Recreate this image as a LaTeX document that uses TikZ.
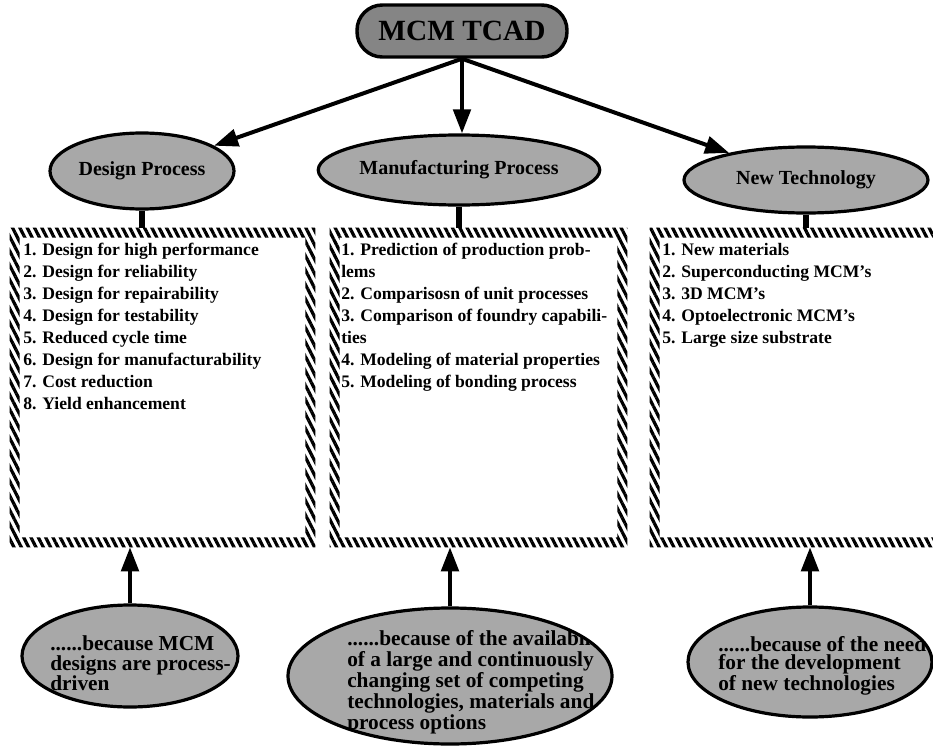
\documentclass[tikz,border=0pt]{standalone}
\usepackage{fontspec}
\setmainfont{Liberation Serif}
\usetikzlibrary{shapes.geometric,arrows.meta,patterns.meta,calc}
\definecolor{bubblegray}{gray}{0.66}
\definecolor{headgray}{gray}{0.52}
% hatched frame around a list box node
\newcommand\hatchframe[1]{%
  \fill[hatch,even odd rule] (#1.north west) rectangle (#1.south east)
    ($(#1.north west)+(10,10)$) rectangle ($(#1.south east)+(-10,-10)$);}
\begin{document}
\begin{tikzpicture}[x=0.75pt,y=-0.75pt,
  bubble/.style={ellipse,draw,line width=2.4pt,fill=bubblegray,inner sep=0pt},
  headbox/.style={rectangle,rounded corners=19pt,draw,line width=2.6pt,fill=headgray,
    minimum width=157.5pt,minimum height=39pt,inner sep=0pt,
    font=\fontsize{22}{24}\selectfont\bfseries},
  bubbletitle/.style={font=\fontsize{15}{17}\selectfont\bfseries},
  listbox/.style={rectangle,inner sep=0pt,minimum height=239.25pt},
  listtext/.style={anchor=north west,inner sep=0pt,align=left,
    font=\fontsize{13.2}{16.5}\selectfont\bfseries},
  reason/.style={anchor=west,inner sep=0pt,align=left},
  hatch/.style={pattern={Lines[angle=-63,distance=4.9pt,line width=2.4pt]}},
  arr/.style={line width=3pt,-{Triangle[length=18pt,width=13pt]}},
  stem/.style={line width=3.8pt},
]
\useasboundingbox (0,0) rectangle (933,750);

% top node
\node[headbox] (top) at (462,31) {MCM TCAD};

% category bubbles
\node[bubble,bubbletitle,minimum width=138pt,minimum height=57pt] (dp) at (142,171) {Design Process};
\node[bubble,bubbletitle,minimum width=192pt,minimum height=52.5pt] (mp) at (459,170) {Manufacturing Process};
\node[bubble,bubbletitle,minimum width=183pt,minimum height=49.5pt] (nt) at (806,180) {New Technology};

\draw[arr] (top.south) -- (dp);
\draw[arr] (top.south) -- (top.south |- mp.north);
\draw[arr] (top.south) -- (nt);

% list boxes
\node[listbox,minimum width=228.75pt] (dbox) at (162.5,387.5) {};
\node[listbox,minimum width=222.75pt] (mbox) at (478.5,387.5) {};
\node[listbox,minimum width=221.25pt] (nbox) at (797.5,387.5) {};
\hatchframe{dbox}
\hatchframe{mbox}
\hatchframe{nbox}

\draw[stem] (dp.south) -- (dp.south |- dbox.north);
\draw[stem] (mp.south) -- (mp.south |- mbox.north);
\draw[stem] (nt.south) -- (nt.south |- nbox.north);

\node[listtext] (dlist) at (23,243) {1. Design for high performance\\2. Design for reliability\\3. Design for repairability\\4. Design for testability\\5. Reduced cycle time\\6. Design for manufacturability\\7. Cost reduction\\8. Yield enhancement};
\node[listtext] (mlist) at (341,243) {1. Prediction of production prob-\\lems\\2. Comparisosn of unit processes\\3. Comparison of foundry capabili-\\ties\\4. Modeling of material properties\\5. Modeling of bonding process};
\node[listtext] (nlist) at (662,243) {1. New materials\\2. Superconducting MCM's\\3. 3D MCM's\\4. Optoelectronic MCM's\\5. Large size substrate};

% reason bubbles
\node[bubble,minimum width=162pt,minimum height=76.5pt] (db) at (130,656) {};
\node[bubble,minimum width=243pt,minimum height=102pt] (mb) at (450,676) {};
\node[bubble,minimum width=183pt,minimum height=82.5pt] (nb) at (810,662) {};

\draw[arr] (db.north) -- (db.north |- dbox.south);
\draw[arr] (mb.north) -- (mb.north |- mbox.south);
\draw[arr] (nb.north) -- (nb.north |- nbox.south);

\node[reason,font=\fontsize{16}{15}\selectfont\bfseries] (dbt) at (50,663)
  {......because MCM\\designs are process-\\driven};
\begin{scope}
  \clip (mb.center) ellipse [x radius=123pt,y radius=50pt];
  \node[reason,font=\fontsize{16}{13.5}\selectfont\bfseries] (mbt) at (347,682)
    {......because of the availability\\of a large and continuously\\changing set of competing\\technologies, materials and\\process options};
\end{scope}
\begin{scope}
  \clip (nb.center) ellipse [x radius=91pt,y radius=40pt];
  \node[reason,font=\fontsize{16}{13.5}\selectfont\bfseries] (nbt) at (718,666)
    {......because of the need\\for the development\\of new technologies};
\end{scope}
\end{tikzpicture}
\end{document}
